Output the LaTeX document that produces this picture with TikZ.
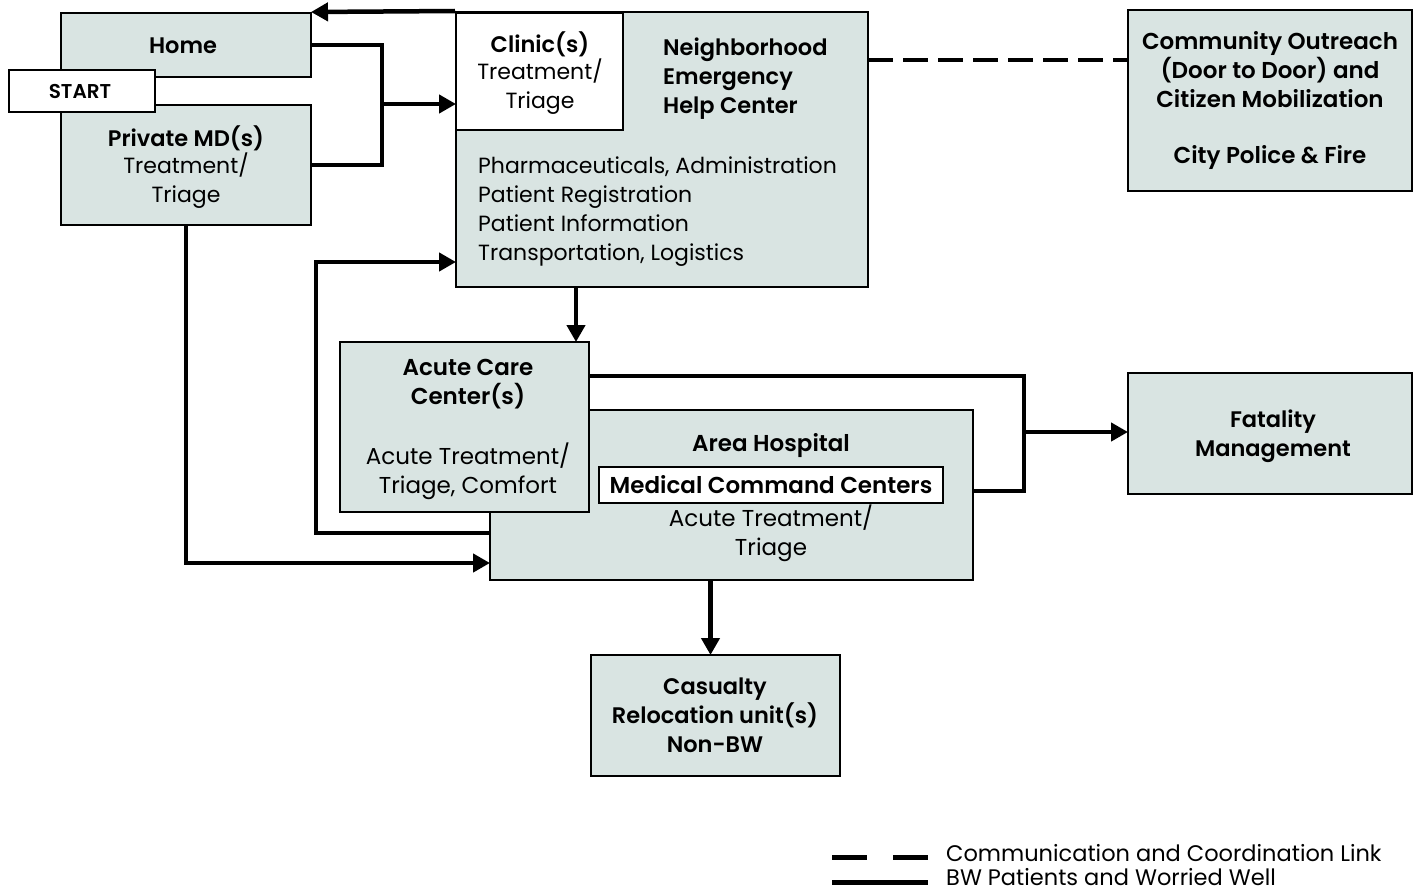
\documentclass[tikz,border=0pt]{standalone}
\usepackage{fontspec}
\setmainfont{Poppins}[BoldFont={Poppins SemiBold}]
\usetikzlibrary{arrows.meta}
\definecolor{boxfill}{RGB}{217,228,226}
\tikzset{
  box/.style={draw=black, line width=2pt, fill=boxfill, inner sep=0pt},
  wbox/.style={draw=black, line width=2pt, fill=white, inner sep=0pt},
  txt/.style={inner sep=0pt, align=center, font=\fontsize{22}{29}\selectfont},
  btxt/.style={txt, font=\fontsize{22.5}{29}\selectfont\bfseries},
  conn/.style={line width=4.5pt, line join=miter},
  arrow/.style={conn, -{Triangle[length=17pt,width=18pt]}, shorten >=-1pt},
  dashline/.style={line width=4.5pt, dash pattern=on 25pt off 10pt},
}
\begin{document}
\begin{tikzpicture}[x=1pt,y=-1pt]
\useasboundingbox[fill=white] (0,0) rectangle (1419,891);
% boxes
\node[box, minimum width=250, minimum height=64] (home) at (186,45) {};
\node[box, minimum width=250, minimum height=120] (pmd) at (186,165) {};
\node[wbox, minimum width=146, minimum height=41] (start) at (82,91) {};
\node[box, minimum width=412, minimum height=275] (neigh) at (662,149.5) {};
\node[wbox, minimum width=167, minimum height=117] (clinic) at (539.5,71.5) {};
\node[box, minimum width=284, minimum height=181] (comm) at (1270,100.5) {};
\node[box, minimum width=483, minimum height=170] (hosp) at (731.5,495) {};
\node[wbox, minimum width=344, minimum height=36] (mcc) at (771,485) {};
\node[box, minimum width=249, minimum height=170] (acute) at (464.5,427) {};
\node[box, minimum width=284, minimum height=121] (fat) at (1270,433.5) {};
\node[box, minimum width=249, minimum height=121] (cas) at (715.5,715.5) {};
% texts
\node[btxt] (thome) at (183,46) {Home};
\node[btxt, font=\fontsize{20}{22}\selectfont\bfseries] (tstart) at (80,91) {START};
\node[btxt] (tpmd1) at (186,138) {Private MD(s)};
\node[txt] (tpmd2) at (186,181) {Treatment/\\Triage};
\node[btxt] (tcl1) at (540,44) {Clinic(s)};
\node[txt] (tcl2) at (540,87) {Treatment/\\Triage};
\node[btxt, anchor=north west, align=left] (tneigh) at (663,38) {Neighborhood\\Emergency\\Help Center};
\node[txt, anchor=north west, align=left] (tlist) at (478,157) {Pharmaceuticals, Administration\\Patient Registration\\Patient Information\\Transportation, Logistics};
\node[btxt, font=\fontsize{23}{29}\selectfont\bfseries] (tcomm) at (1270,70) {Community Outreach\\(Door to Door) and\\Citizen Mobilization};
\node[btxt, font=\fontsize{23}{29}\selectfont\bfseries] (tcomm2) at (1270,157) {City Police \& Fire};
\node[btxt, font=\fontsize{23}{29}\selectfont\bfseries] (tac1) at (468,384) {Acute Care\\Center(s)};
\node[txt, font=\fontsize{23}{29}\selectfont] (tac2) at (468,471) {Acute Treatment/\\Triage, Comfort};
\node[btxt, font=\fontsize{23}{29}\selectfont\bfseries] (thosp) at (771,446) {Area Hospital};
\node[btxt, font=\fontsize{23}{29}\selectfont\bfseries] (tmcc) at (771,485) {Medical Command Centers};
\node[txt, font=\fontsize{23}{29}\selectfont] (thosp2) at (771,533) {Acute Treatment/\\Triage};
\node[btxt] (tfat) at (1273,436) {Fatality\\Management};
\node[btxt] (tcas) at (715,715) {Casualty\\Relocation unit(s)\\Non-BW};
% connectors
\draw[arrow] (neigh.north west) -- (home.north east);
\coordinate (j1) at (382,104);
\draw[conn] (home.east) -| (j1);
\draw[conn] (pmd.east) -| (j1);
\draw[arrow] (j1) -- (j1 -| neigh.west);
\draw[arrow] ([xshift=-14pt]acute.north east |- neigh.south) -- ([xshift=-14pt]acute.north east);
\coordinate (lp1) at (316,533);
\coordinate (lp2) at (316,262);
\draw[arrow] (hosp.west |- lp1) -- (lp1) -- (lp2) -- (neigh.west |- lp2);
\coordinate (c2) at (186,563);
\draw[arrow] (pmd.south) -- (c2) -- (hosp.west |- c2);
\coordinate (j2a) at (1024,376);
\coordinate (j2) at (1024,432);
\coordinate (j2b) at (1024,491);
\draw[conn] (acute.east |- j2a) -- (j2a) -- (j2b) -- (hosp.east |- j2b);
\draw[arrow] (j2) -- (fat.west |- j2);
\draw[arrow] ([xshift=-5pt]cas.north |- hosp.south) -- ([xshift=-5pt]cas.north);
\coordinate (d1) at (868,60);
\draw[dashline] (d1) -- (comm.west |- d1);
% legend
\coordinate (la1) at (832,857);
\coordinate (la2) at (928,857);
\coordinate (lb1) at (832,882);
\coordinate (lb2) at (928,882);
\draw[line width=5pt, dash pattern=on 35pt off 26pt] (la1) -- (la2);
\draw[line width=5pt] (lb1) -- (lb2);
\node[txt, font=\fontsize{22.5}{29}\selectfont, anchor=west] (leg1) at (946,853) {Communication and Coordination Link};
\node[txt, font=\fontsize{22.5}{29}\selectfont, anchor=west] (leg2) at (946,877) {BW Patients and Worried Well};
\end{tikzpicture}
\end{document}
